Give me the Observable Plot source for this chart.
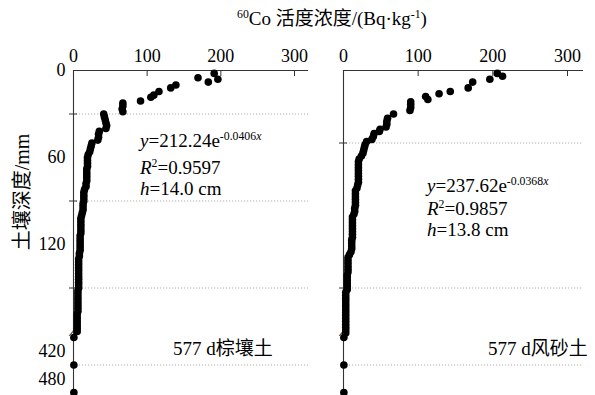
<!DOCTYPE html>
<html><head><meta charset="utf-8">
<script src="https://cdn.jsdelivr.net/npm/d3@7"></script>
<script src="https://cdn.jsdelivr.net/npm/@observablehq/plot@0.6"></script>
<style>
body{margin:0;background:#fff;}
#wrap{position:relative;width:595px;height:395px;overflow:hidden;font-family:"Liberation Serif","Times New Roman","Noto Sans CJK SC",serif;color:#000;}
.t{position:absolute;white-space:nowrap;line-height:1;font-size:19px;}
.p{position:absolute;top:0;}
.p text{font-family:"Liberation Serif","Times New Roman",serif;}
sup{font-size:0.62em;vertical-align:0;position:relative;top:-0.6em;}
i{font-style:italic;}
</style></head><body><div id="wrap"></div>
<script>
// ---- data ----
const xTicks = [0, 100, 200, 300];
const yLabelsUpper = [0, 60, 120];
const yLabelsLower = [420, 480];
const leftGrid = [30, 90, 150];
const rightGrid = [50, 150];
const lowerGrid = [450];
const breakDepth = 381;

const depthL = [2,5,6,8,10,12,14.5,17,18.5,21,
  22.5,24.5,26.5,28.5,30,32,34,36,38,40,42,44,46,48,50,52,54,56,
  58,60,62,64,66,68,70,72,74,76,78,80,82,84,86,88,90,92,94,96,98,
  100,102,104,106,108,110,112,114,116,118,120,122,124,126,128,130,132,134,136,138,140,
  142,144,146,148,150,152,154,156,158,160,162,164,166,168,170,172,174,176,178,180,
  390,450,510];
const concL = [191,169,196,183,139,132,116,109,105,91,
  67,67,66,67,41,42,43,44,45,44,35,34,34,33,25,24,23,22,
  20,19,19,19,19,18,18,18,18,18,17,17,15,14,14,14,14,13,13,13,12,
  11,10,10,10,10,10,10,9,9,9,9,9,9,8,8,7,7,7,7,7,7,
  7,7,7,7,7,6,6,6,6,6,6,6,6,5,5,5,5,5,5,5,
  0.5,0.5,0.5];

const depthR = [2,4,6,8,12,14.5,16,18,20,
  21.5,23.5,25.5,27.5,30,33,35,37,39,40.5,42,43.5,45.5,47.5,49,51,53,55,57,59,
  61,63,65,67,69,71,73,75,77,79,81,83,85,87,89,91,93,95,97,99,
  101,103,105,107,109,111,113,115,117,119,121,123,125,127,129,131,133,135,137,139,
  141,143,145,147,149,151,153,155,157,159,161,163,165,167,169,171,173,175,177,179,181,
  390,450,510];
const concR = [206,213,196,173,167,143,128,110,113,
  90,90,90,89,67,59,58,58,57,49,48,41,40,38,31,29,28,27,26,24,
  21,20,20,20,20,20,20,20,20,19,18,16,16,16,16,16,16,15,15,14,
  12,12,12,12,12,12,12,12,11,11,11,11,10,8,6,6,6,6,6,6,
  5,5,5,5,5,5,3,3,3,3,3,3,3,3,3,3,3,3,3,3,3,
  0.5,0.5,0.5];

const fitL = ["y", "=212.24e", "-0.0406", "R", "=0.9597", "h", "=14.0 cm"];
const fitR = ["y", "=237.62e", "-0.0368", "R", "=0.9857", "h", "=13.8 cm"];
const soilL = "577 d棕壤土";
const soilR = "577 d风砂土";
const title = ["60", "Co 活度浓度/(Bq·kg", "-1", ")"];
const yTitle = "土壤深度/mm";

// ---- drawing ----
const font = '"Liberation Serif","Times New Roman",serif';
const wrap = document.getElementById("wrap");
const axisStroke = "#333";

function upper(data, grid, showY, width, x0, x300) {
  const marks = [
    Plot.gridY(grid, {stroke: "#9a9a9a", strokeOpacity: 1, strokeDasharray: "1.2,1.8", strokeWidth: 0.8}),
    Plot.ruleY([0], {stroke: axisStroke, strokeWidth: 1.1}),
    Plot.ruleX([0], {stroke: axisStroke, strokeWidth: 1.1}),
    Plot.axisX(xTicks, {anchor: "top", tickSize: 0, tickPadding: 9, label: null, fontSize: 18, fontFamily: font}),
    Plot.axisX(xTicks.slice(1), {anchor: "top", tickSize: 5, dy: 5, tickFormat: () => "", label: null, stroke: axisStroke}),
    Plot.axisY(grid, {anchor: "left", tickSize: 8, dx: 4, tickFormat: () => "", label: null, stroke: axisStroke}),
    Plot.dot(data.filter(p => p.d <= 200), {x: "v", y: "d", r: 3.8, fill: "#000", stroke: null})
  ];
  if (showY) marks.push(Plot.axisY(yLabelsUpper, {anchor: "left", tickSize: 0, tickPadding: 8, label: null, fontSize: 18, fontFamily: font}));
  return Plot.plot({
    width, height: 395,
    marginTop: 70, marginBottom: 62, marginLeft: x0, marginRight: 12,
    x: {domain: [0, 300], range: [x0, x300], axis: null},
    y: {domain: [0, 180], range: [70, 331], axis: null},
    style: {fontFamily: font, fontSize: "18px", background: "transparent", color: "#000"},
    marks
  });
}

function lower(data, showY, width, x0, x300) {
  const marks = [
    Plot.gridY(lowerGrid, {stroke: "#9a9a9a", strokeOpacity: 1, strokeDasharray: "1.2,1.8", strokeWidth: 0.8}),
    Plot.ruleX([0], {stroke: axisStroke, strokeWidth: 1.1}),
    Plot.dot(data.filter(p => p.d > 200), {x: "v", y: "d", r: 3.8, fill: "#000", stroke: null}),
    Plot.text([{v: 0, d: breakDepth}], {x: "v", y: "d", text: () => "//", fontSize: 12, fontWeight: "bold", rotate: 20, fontFamily: font})
  ];
  if (showY) marks.push(Plot.axisY(yLabelsLower, {anchor: "left", tickSize: 0, tickPadding: 8, label: null, fontSize: 18, fontFamily: font}));
  return Plot.plot({
    width, height: 395,
    marginTop: 333, marginBottom: 3, marginLeft: x0, marginRight: 12,
    x: {domain: [0, 300], range: [x0, x300], axis: null},
    y: {domain: [390, 510], range: [337, 392], axis: null},
    style: {fontFamily: font, fontSize: "18px", background: "transparent", color: "#000"},
    marks
  });
}

function place(svg, left) {
  svg.classList.add("p");
  svg.style.left = left + "px";
  wrap.appendChild(svg);
}

const dataL = depthL.map((d, i) => ({d, v: concL[i]}));
const dataR = depthR.map((d, i) => ({d, v: concR[i]}));
place(upper(dataL, leftGrid, true, 320, 73, 294), 0);
place(lower(dataL, true, 320, 73, 294), 0);
place(upper(dataR, rightGrid, false, 275, 23, 247), 320);
place(lower(dataR, false, 275, 23, 247), 320);

function addText(html, left, top, extra) {
  const el = document.createElement("div");
  el.className = "t";
  el.innerHTML = html;
  el.style.left = left + "px";
  el.style.top = top + "px";
  if (extra) Object.assign(el.style, extra);
  wrap.appendChild(el);
  return el;
}
addText(`<sup>${title[0]}</sup>${title[1]}<sup>${title[2]}</sup>${title[3]}`, 237, 9);
addText(yTitle, 22, 192, {transform: "translate(-50%,-50%) rotate(-90deg)", fontSize: "20px"});

function fit(f, left, tops) {
  addText(`<i>${f[0]}</i>${f[1]}<sup>${f[2]}<i>x</i></sup>`, left, tops[0]);
  addText(`<i>${f[3]}</i><sup>2</sup>${f[4]}`, left, tops[1]);
  addText(`<i>${f[5]}</i>${f[6]}`, left, tops[2]);
}
fit(fitL, 140, [131, 158, 179]);
fit(fitR, 427, [176, 199, 220]);
addText(soilL, 173, 339);
addText(soilR, 488, 339);
</script></body></html>
